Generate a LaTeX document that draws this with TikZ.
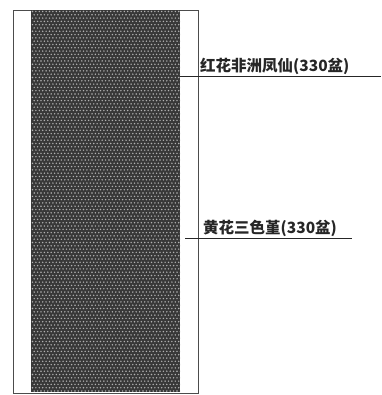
\documentclass[tikz,border=0pt]{standalone}
\usepackage{fontspec}
\newfontfamily\cjk{Noto Sans CJK SC}
\begin{document}
\begin{tikzpicture}[x=1pt,y=-1pt,
  leader/.style={draw=black!85,line width=0.9pt},
  dotmark/.style={fill=black!30},
  lbl/.style={font=\cjk\bfseries\fontsize{15.5}{15.5}\selectfont,inner sep=0pt,anchor=base west,text=black!85}]
\useasboundingbox (0,0) rectangle (381,395);
\fill[white] (0,0) rectangle (381,395);
% outer frame
\draw[black!70,line width=0.9pt] (13,10) rectangle (198,393);
% dark band
\fill[black!78] (31,10) rectangle (180,392);
\begin{scope}
\clip (31,10) rectangle (180,392);
\foreach \j in {0,...,116}{
  \pgfmathsetmacro{\yy}{11.5+\j*3.3}
  \pgfmathsetmacro{\off}{mod(\j,2)*1.7}
  \foreach \i in {0,...,44}{
    \fill[dotmark] ({32.5+\off+\i*3.4},\yy) circle (0.8);
  }
}
\end{scope}
% labels
\node[lbl] (t1) at (200,72) {红花非洲凤仙(330盆)};
\node[lbl] (t2) at (203,233) {黄花三色堇(330盆)};
\coordinate (a1) at (180,76);
\coordinate (b1) at (381,76);
\coordinate (a2) at (185,238);
\coordinate (b2) at (352,238);
\draw[leader] (a1) -- (b1);
\draw[leader] (a2) -- (b2);
\end{tikzpicture}
\end{document}
